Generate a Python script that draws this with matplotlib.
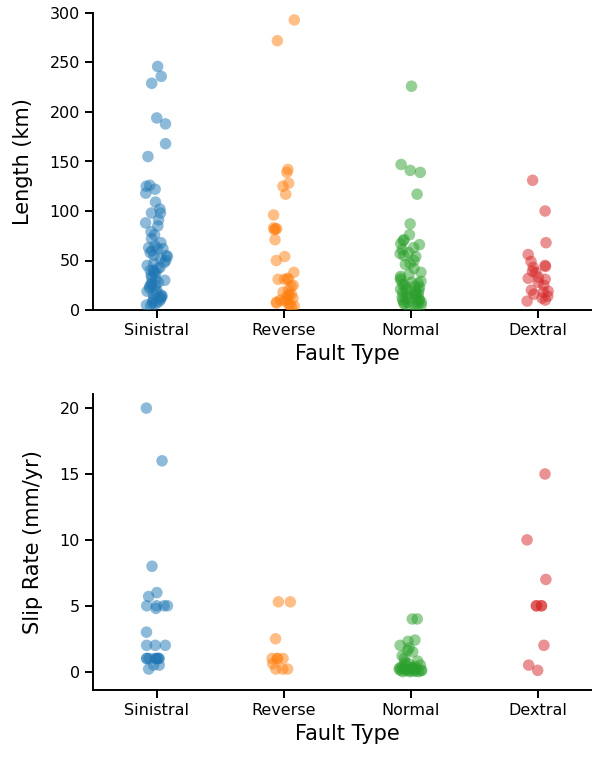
import numpy as np
import pandas as pd
import matplotlib
matplotlib.use('Agg')
import matplotlib.pyplot as plt
import seaborn as sns

fault_types = ['Sinistral', 'Reverse', 'Normal', 'Dextral']
colors = ['#1f77b4', '#ff7f0e', '#2ca02c', '#d62728']

# fault length (km)
length_sinistral = [246, 236, 229, 194, 188, 168, 155, 126, 125, 122, 118, 109,
                    102, 98, 98, 91, 88, 85, 79, 76, 72, 68, 65, 63, 62, 62, 60,
                    58, 55, 55, 54, 52, 50, 48, 47, 45, 43, 42, 40, 40, 38, 37,
                    35, 33, 31, 30, 28, 27, 26, 25, 24, 22, 20, 19, 18, 16, 15,
                    14, 13, 12, 11, 10, 9, 8, 7, 6, 5, 4]
length_reverse = [293, 272, 142, 139, 128, 125, 117, 96, 83, 82, 82, 81, 71, 54,
                  50, 38, 32, 31, 31, 31, 25, 24, 20, 18, 16, 15, 14, 12, 11,
                  10, 9, 8, 7, 6, 5, 4, 3]
length_normal = [226, 147, 141, 139, 117, 87, 76, 71, 70, 67, 66, 63, 61, 58,
                 57, 55, 54, 50, 47, 46, 42, 38, 36, 34, 32, 30, 29, 28, 27, 26,
                 25, 24, 23, 22, 21, 20, 20, 19, 18, 17, 16, 15, 15, 14, 13, 12,
                 12, 11, 10, 10, 9, 8, 8, 7, 6, 5, 5, 4, 3]
length_dextral = [131, 100, 68, 56, 49, 45, 44, 43, 39, 38, 33, 32, 31, 28, 25,
                  20, 19, 18, 16, 14, 12, 10, 9]

# slip rate (mm/yr)
slip_sinistral = [20, 16, 8, 6, 5.7, 5, 5, 5, 5, 4.8, 3, 2, 2, 2, 1, 1, 1, 1,
                  1, 1, 1, 1, 0.5, 0.5, 0.2]
slip_reverse = [5.3, 5.3, 2.5, 1, 1, 1, 1, 0.6, 0.2, 0.2, 0.2]
slip_normal = [4, 4, 2.4, 2.3, 2.0, 1.8, 1.6, 1.5, 1.2, 1.0, 0.8, 0.7, 0.6,
               0.5, 0.5, 0.4, 0.4, 0.3, 0.3, 0.3, 0.2, 0.2, 0.2, 0.2, 0.1, 0.1,
               0.1, 0.1, 0.1, 0.05, 0.05, 0, 0, 0]
slip_dextral = [15, 10, 7, 5, 5, 5, 5, 2, 0.5, 0.1]


def make_frame(series, col):
    rows = []
    for name, vals in zip(fault_types, series):
        for v in vals:
            rows.append({'Fault Type': name, col: v})
    return pd.DataFrame(rows)


length_df = make_frame([length_sinistral, length_reverse, length_normal, length_dextral], 'Length (km)')
slip_df = make_frame([slip_sinistral, slip_reverse, slip_normal, slip_dextral], 'Slip Rate (mm/yr)')

sns.set_theme(style='ticks', context='notebook')
plt.rcParams['font.family'] = ['DejaVu Sans']
plt.rcParams.update({'text.color': 'black', 'axes.labelcolor': 'black',
                     'xtick.color': 'black', 'ytick.color': 'black',
                     'axes.edgecolor': 'black', 'axes.linewidth': 1.4,
                     'xtick.major.width': 1.4, 'ytick.major.width': 1.4})

fig = plt.figure(figsize=(5.92, 7.58), dpi=100)
ax1 = fig.add_axes([93 / 592, 1 - 310 / 758, 508 / 592, 297 / 758])
ax2 = fig.add_axes([93 / 592, 1 - 690 / 758, 508 / 592, 296 / 758])

np.random.seed(3)
sns.stripplot(data=length_df, x='Fault Type', y='Length (km)', hue='Fault Type',
              order=fault_types, hue_order=fault_types, palette=colors,
              jitter=0.09, size=8.3, alpha=0.5, linewidth=0, legend=False, ax=ax1)
sns.stripplot(data=slip_df, x='Fault Type', y='Slip Rate (mm/yr)', hue='Fault Type',
              order=fault_types, hue_order=fault_types, palette=colors,
              jitter=0.09, size=8.3, alpha=0.5, linewidth=0, legend=False, ax=ax2)

ax1.set_ylim(0, 300)
ax2.set_ylim(-1.39, 21.07)
ax2.set_yticks([0, 5, 10, 15, 20])
for ax in (ax1, ax2):
    ax.set_xlim(-0.5, 3.5)
    ax.set_xlabel('Fault Type', fontsize=15)
    ax.set_ylabel(ax.get_ylabel(), fontsize=15, labelpad=12)
    ax.tick_params(labelsize=11.5)
sns.despine(fig=fig)

fig.savefig('out.png', dpi=100)
